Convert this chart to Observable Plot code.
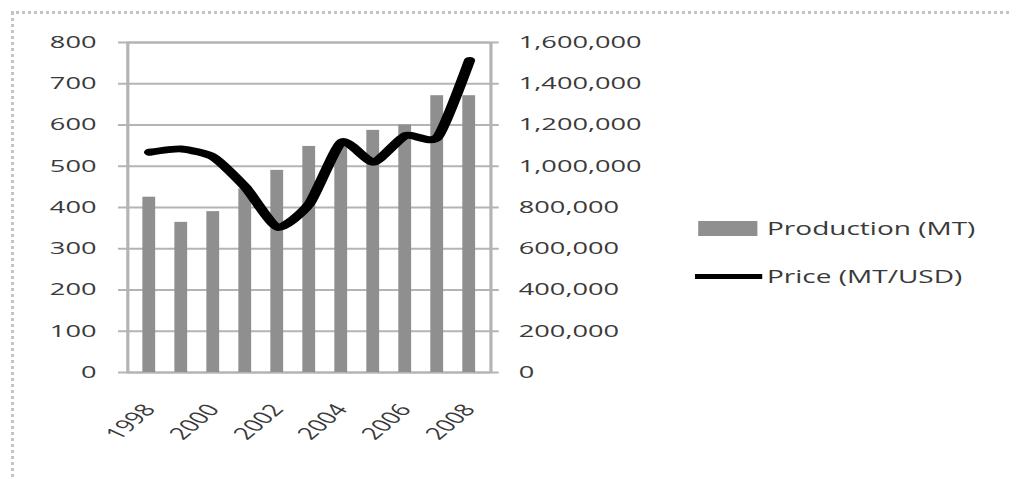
<!DOCTYPE html>
<html>
<head>
<meta charset="utf-8">
<script src="https://cdn.jsdelivr.net/npm/d3@7"></script>
<script src="https://cdn.jsdelivr.net/npm/@observablehq/plot@0.6"></script>
<style>
  html, body { margin: 0; padding: 0; background: #fff; }
  #chart { position: relative; width: 1011px; height: 480px; overflow: hidden; }
  #frame {
    position: absolute; left: 11px; top: 11px; width: 1100px; height: 600px;
    border: 3px dotted #c4c4c4; box-sizing: border-box; pointer-events: none;
  }
  .legend {
    position: absolute; left: 695px; top: 0; transform: scaleX(1.6); transform-origin: 0 0;
    font: 17.5px "Open Sans", sans-serif; color: #3a3a3a;
  }
  .legend .row { position: absolute; left: 0; display: flex; align-items: center; white-space: nowrap; }
  .legend .sw-bar { width: 37px; height: 15px; background: #8f8f8f; margin-left: 2px; margin-right: 6px; }
  .legend .sw-line { width: 42px; height: 5px; background: #000; margin-right: 3px; }
</style>
</head>
<body>
<div id="chart">
  <div id="frame"></div>
</div>
<script>
// Annual production (MT) and price (MT/USD), 1998–2008
const years = [1998, 1999, 2000, 2001, 2002, 2003, 2004, 2005, 2006, 2007, 2008];
const production = [425, 364, 390, 445, 490, 548, 555, 587, 600, 671, 671];
const price = [1068000, 1084000, 1044000, 898000, 704000, 819000, 1117000, 1020000, 1149000, 1141000, 1513000];

// Axis ticks: left for production, right for price
const productionTicks = [0, 100, 200, 300, 400, 500, 600, 700, 800];
const priceTicks = [0, 200000, 400000, 600000, 800000, 1000000, 1200000, 1400000, 1600000];
const yearLabels = [1998, 2000, 2002, 2004, 2006, 2008];

// Price shares the production scale: 1,600,000 on the right lines up with 800 on the left
const priceRatio = priceTicks[priceTicks.length - 1] / productionTicks[productionTicks.length - 1];

const rows = years.map((year, i) => ({year, production: production[i], price: price[i]}));
const fmt = d3.format(",");
const gridColor = "#b4b4b4";

// The chart is laid out narrow and then widened to the page width,
// which gives the broad, stretched lettering and strokes.
const pageWidth = 1011;
const stretch = 1.6;
const plotWidth = Math.round(pageWidth / stretch);

const chart = Plot.plot({
  width: plotWidth,
  height: 480,
  marginTop: 42,
  marginBottom: 108,
  marginLeft: 79.4,
  marginRight: 325.6,
  style: {fontFamily: "Open Sans", fontSize: "17px", color: "#3a3a3a", background: "transparent", overflow: "visible"},
  x: {type: "band", domain: years, paddingInner: 0.58, paddingOuter: 0.29},
  y: {domain: [0, 800]},
  marks: [
    Plot.gridY(productionTicks, {stroke: gridColor, strokeOpacity: 1, strokeWidth: 2}),
    Plot.frame({stroke: gridColor, strokeWidth: 2}),
    Plot.axisY(productionTicks, {
      anchor: "left", tickSize: 5.6, tickPadding: 14, stroke: gridColor, strokeWidth: 2,
      label: null, tickFormat: d => String(d)
    }),
    Plot.axisY(productionTicks, {
      anchor: "right", tickSize: 4.4, tickPadding: 13, stroke: gridColor, strokeWidth: 2,
      label: null, tickFormat: d => fmt(d * priceRatio)
    }),
    Plot.axisX(yearLabels, {
      anchor: "bottom", tickSize: 0, tickPadding: 34, tickRotate: -53, label: null,
      tickFormat: d => String(d)
    }),
    Plot.barY(rows, {x: "year", y: "production", fill: "#8f8f8f"}),
    Plot.line(rows, {
      x: "year", y: d => d.price / priceRatio,
      stroke: "#000", strokeWidth: 7, curve: "cardinal", tension: 0.4,
      strokeLinejoin: "round", strokeLinecap: "round"
    })
  ]
});

chart.setAttribute("width", pageWidth);
chart.setAttribute("preserveAspectRatio", "none");
chart.style.width = pageWidth + "px";
chart.style.maxWidth = "none";
chart.style.position = "absolute";
chart.style.left = "0";
chart.style.top = "0";

const host = document.getElementById("chart");
host.insertBefore(chart, host.firstChild);

// Legend beside the plot
const legend = document.createElement("div");
legend.className = "legend";
legend.innerHTML = `
  <div class="row" style="top:216px"><span class="sw-bar"></span><span>Production (MT)</span></div>
  <div class="row" style="top:264px"><span class="sw-line"></span><span>Price (MT/USD)</span></div>`;
host.appendChild(legend);
</script>
</body>
</html>
